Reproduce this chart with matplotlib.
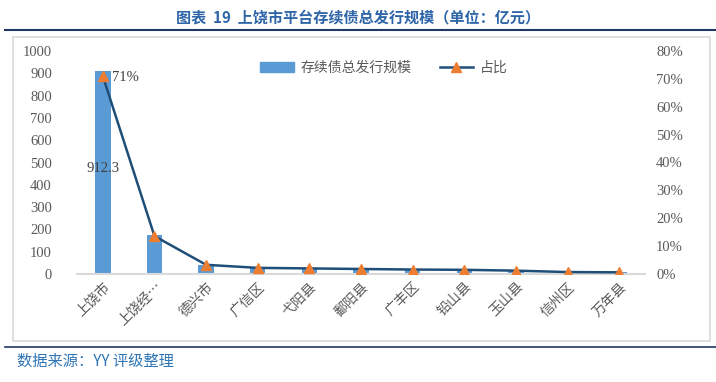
import matplotlib
matplotlib.use('Agg')
import matplotlib.pyplot as plt
from matplotlib.lines import Line2D
from matplotlib.patches import Rectangle, Patch

plt.rcParams['font.family'] = ['Noto Sans CJK SC', 'DejaVu Sans']

# 数据
regions = ['上饶市', '上饶经…', '德兴市', '广信区', '弋阳县', '鄱阳县',
           '广丰区', '铅山县', '玉山县', '信州区', '万年县']
scale = [912.3, 175, 41, 27, 24, 22, 19, 18, 15, 10, 8]
share = [71, 13.6, 3.3, 2.2, 2.0, 1.8, 1.6, 1.5, 1.2, 0.7, 0.6]  # %

fig = plt.figure(figsize=(7.16, 3.82), dpi=100)

# 外框与分隔线
fig.add_artist(Rectangle((13/716, 1-341/382), 697/716, 304/382, transform=fig.transFigure,
                         fill=False, edgecolor='#D9D9D9', lw=1.2))
fig.add_artist(Line2D([5/716, 1], [1-30/382]*2, transform=fig.transFigure, color='#1F3864', lw=1.5))
fig.add_artist(Line2D([5/716, 1], [1-347/382]*2, transform=fig.transFigure, color='#1F3864', lw=1.2))

fig.text(0.5, 1-17/382, '图表  19  上饶市平台存续债总发行规模（单位：亿元）', ha='center', va='center',
         fontsize=10.9, fontweight='bold', color='#2E64A8')
fig.text(17/716, 1-361/382, '数据来源：YY 评级整理', ha='left', va='center',
         fontsize=11, color='#2E75B6')

ax = fig.add_axes([77/716, 108/382, 568/716, 223/382])
x = list(range(len(regions)))
ax.bar(x, scale, width=0.3, color='#5B9BD5', zorder=2)
ax.set_xlim(-0.5, len(regions) - 0.5)
ax.set_ylim(0, 1000)
ax.set_yticks(range(0, 1001, 100))
for s in ['top', 'right', 'left']:
    ax.spines[s].set_visible(False)
ax.spines['bottom'].set_color('#D9D9D9')
ax.spines['bottom'].set_linewidth(1.5)
ax.tick_params(axis='both', length=0, colors='#595959')
ax.tick_params(axis='y', pad=18)
for lab in ax.get_yticklabels():
    lab.set_family(['Liberation Serif'])
    lab.set_fontsize(10.5)
ax.set_xticks(x)
ax.set_xticklabels(regions, rotation=45, ha='right', rotation_mode='anchor',
                   fontsize=10, color='#595959')
ax.tick_params(axis='x', pad=4)
ax.text(0, 475, '912.3', ha='center', va='center', fontsize=10.5,
        family=['Liberation Serif'], color='#404040', zorder=5)

ax2 = ax.twinx()
ax2.plot(x, share, color='#1F4E79', lw=1.8, marker='^', markersize=7,
         markerfacecolor='#ED7D31', markeredgecolor='#ED7D31', zorder=3)
ax2.set_ylim(0, 80)
ax2.set_yticks(range(0, 81, 10))
ax2.set_yticklabels([f'{v}%' for v in range(0, 81, 10)])
for s in ['top', 'right', 'left', 'bottom']:
    ax2.spines[s].set_visible(False)
ax2.tick_params(axis='y', length=0, colors='#595959', pad=8)
for lab in ax2.get_yticklabels():
    lab.set_family(['Liberation Serif'])
    lab.set_fontsize(10.5)
ax2.text(0.18, share[0] - 0.6, f'{share[0]:.0f}%', ha='left', va='center', fontsize=10.5,
         family=['Liberation Serif'], color='#404040')

handles = [Patch(color='#5B9BD5'),
           Line2D([], [], color='#1F4E79', lw=1.8, marker='^', markersize=7,
                  markerfacecolor='#ED7D31', markeredgecolor='#ED7D31')]
fig.legend(handles, ['存续债总发行规模', '占比'], loc='center', bbox_to_anchor=(384/716, 1-68/382),
           ncol=2, frameon=False, fontsize=10, labelcolor='#595959', handlelength=2.4,
           columnspacing=2.0, handletextpad=0.5)

fig.savefig('out.png', dpi=100)
